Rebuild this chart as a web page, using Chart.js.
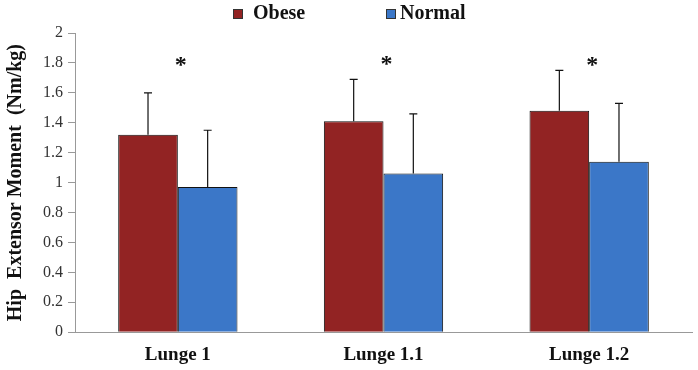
<!DOCTYPE html>
<html>
<head>
<meta charset="utf-8">
<script src="https://cdn.jsdelivr.net/npm/chart.js@4.4.0/dist/chart.umd.min.js"></script>
<style>
  body { margin: 0; background: #fff; }
</style>
</head>
<body>
<canvas id="hipChart" width="698" height="370"></canvas>
<script>
const categories = ["Lunge 1", "Lunge 1.1", "Lunge 1.2"];
const obeseValues = [1.32, 1.41, 1.48];
const obeseSD = [0.28, 0.28, 0.27];
const normalValues = [0.97, 1.06, 1.14];
const normalSD = [0.38, 0.40, 0.39];
const starLevel = [1.8, 1.81, 1.8];

const serif = "'Liberation Serif', 'Times New Roman', serif";

// legend drawn by hand so the two entries sit far apart like the original
const topLegend = {
    id: "topLegend",
    afterDraw(chart) {
        const ctx = chart.ctx;
        const xs = [233, 386];
        ctx.save();
        ctx.font = "bold 20px " + serif;
        ctx.textBaseline = "middle";
        ctx.textAlign = "left";
        chart.data.datasets.forEach((ds, i) => {
            ctx.fillStyle = ds.backgroundColor;
            ctx.fillRect(xs[i], 9, 10, 10);
            ctx.strokeStyle = "#333";
            ctx.lineWidth = 1;
            ctx.strokeRect(xs[i] + 0.5, 9.5, 9, 9);
            ctx.fillStyle = "#111";
            ctx.fillText(ds.label, xs[i] + (i === 0 ? 20 : 14), 14);
        });
        ctx.restore();
    },
};

// error bars (upper half only) + significance stars
const extras = {
    id: "extras",
    afterDatasetsDraw(chart) {
        const ctx = chart.ctx;
        const y = chart.scales.y;
        ctx.save();
        ctx.strokeStyle = "#111";
        ctx.lineWidth = 1.2;
        chart.data.datasets.forEach((ds, di) => {
            const meta = chart.getDatasetMeta(di);
            meta.data.forEach((bar, i) => {
                const top = y.getPixelForValue(ds.data[i] + ds.sd[i]);
                ctx.beginPath();
                ctx.moveTo(bar.x, bar.y);
                ctx.lineTo(bar.x, top);
                ctx.moveTo(bar.x - 4, top);
                ctx.lineTo(bar.x + 4, top);
                ctx.stroke();
            });
        });
        ctx.fillStyle = "#111";
        ctx.font = "bold 24px " + serif;
        ctx.textAlign = "center";
        ctx.textBaseline = "middle";
        categories.forEach((c, i) => {
            const x = chart.scales.x.getPixelForValue(i);
            ctx.fillText("*", x + 3, y.getPixelForValue(starLevel[i]) + 3);
        });
        ctx.restore();
    },
};

new Chart(document.getElementById("hipChart").getContext("2d"), {
    type: "bar",
    data: {
        labels: categories,
        datasets: [
            {
                label: "Obese",
                data: obeseValues,
                sd: obeseSD,
                backgroundColor: "#922323",
                borderColor: "#111",
                borderWidth: 1,
            },
            {
                label: "Normal",
                data: normalValues,
                sd: normalSD,
                backgroundColor: "#3b77c8",
                borderColor: "#111",
                borderWidth: 1,
            },
        ],
    },
    options: {
        responsive: false,
        animation: false,
        categoryPercentage: 0.58,
        barPercentage: 1,
        layout: { padding: { left: 4, right: 6, top: 33, bottom: -7 } },
        plugins: {
            tooltip: { enabled: false },
            legend: { display: false },
        },
        scales: {
            x: {
                grid: { drawOnChartArea: false, drawTicks: false },
                border: { color: "#999", width: 1 },
                ticks: {
                    color: "#111",
                    padding: 11,
                    font: { family: serif, size: 19, weight: "bold" },
                },
            },
            y: {
                min: 0,
                max: 2,
                ticks: {
                    stepSize: 0.2,
                    color: "#333",
                    padding: 5,
                    font: { family: serif, size: 16 },
                    callback: (v) => String(+v.toFixed(1)),
                },
                grid: { drawOnChartArea: false, tickLength: 7, color: "#999" },
                border: { color: "#999", width: 1 },
                title: {
                    display: true,
                    text: "Hip  Extensor Moment  (Nm/kg)",
                    color: "#111",
                    padding: { top: 0, bottom: 10 },
                    font: { family: serif, size: 20, weight: "bold" },
                },
            },
        },
    },
    plugins: [extras, topLegend],
});
</script>
</body>
</html>
